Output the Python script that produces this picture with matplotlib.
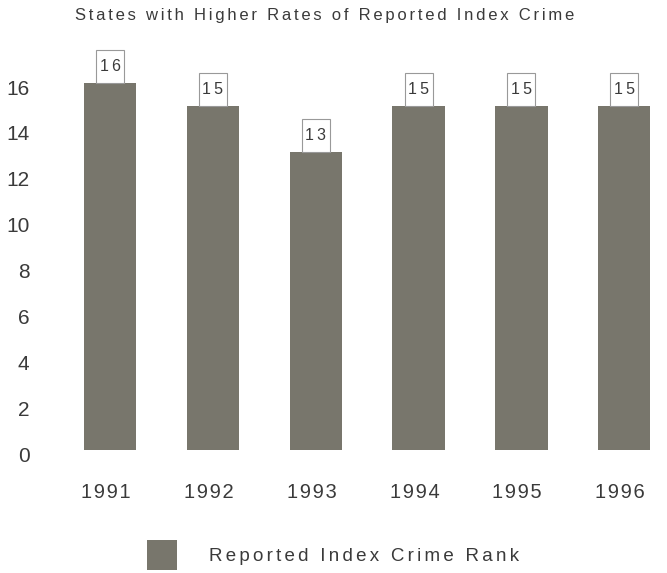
import matplotlib.pyplot as plt
from matplotlib.transforms import ScaledTranslation

# Reported index crime rank by year
years = ["1991", "1992", "1993", "1994", "1995", "1996"]
ranks = [16, 15, 13, 15, 15, 15]
y_ticks = [0, 2, 4, 6, 8, 10, 12, 14, 16]

plt.rcParams['font.family'] = ['Liberation Sans', 'DejaVu Sans']
text_color = "#3a3a3a"
bar_color = "#78766c"

HAIR = "\u200a"
THIN = "\u2009"


def spaced(s, sep=HAIR):
    # loose tracking between every character
    return sep.join(s)


fig = plt.figure(figsize=(6.67, 5.73), dpi=100, facecolor="white")
ax = fig.add_axes([0.0879, 0.2147, 0.902, 0.7208])

x = list(range(len(years)))
bars = ax.bar(x, ranks, width=0.51, color=bar_color,
              label=spaced("Reported Index Crime Rank", HAIR * 2))

# value boxes sitting on top of each bar (taller than wide)
for xi, val in zip(x, ranks):
    ax.annotate(spaced(str(val), THIN), xy=(xi, val), xytext=(0, 6.5), textcoords="offset points",
                ha="center", va="bottom", fontsize=11.5, color=text_color,
                bbox=dict(boxstyle="square,pad=0.22", mutation_aspect=2.6,
                          facecolor="white", edgecolor="#999999", linewidth=0.8))

ax.set_xlim(-0.5, 5.35)
ax.set_ylim(0, 18)
ax.set_xticks(x)
ax.set_xticklabels([spaced(y) for y in years])
ax.set_yticks(y_ticks)
ax.set_yticklabels([str(t) for t in y_ticks])
ax.tick_params(axis="y", length=0, pad=21, labelsize=15, labelcolor=text_color)
ax.tick_params(axis="x", length=0, pad=23.5, labelsize=14.5, labelcolor=text_color)
xshift = ScaledTranslation(-3 / 72, 0, fig.dpi_scale_trans)
for lab in ax.get_xticklabels():
    lab.set_transform(lab.get_transform() + xshift)
yshift = ScaledTranslation(0, -3 / 72, fig.dpi_scale_trans)
for lab in ax.get_yticklabels():
    lab.set_transform(lab.get_transform() + yshift)
for s in ax.spines.values():
    s.set_visible(False)

fig.text(0.487, 0.973, spaced("States with Higher Rates of Reported Index Crime", HAIR * 2),
         ha="center", va="center", fontsize=12, color=text_color)

ax.legend(handles=[bars], loc="center left", bbox_to_anchor=(147 / 667, 1 - 555 / 573),
          bbox_transform=fig.transFigure, frameon=False, fontsize=13.5,
          handlelength=1.6, handleheight=2.1, handletextpad=1.7,
          borderpad=0, borderaxespad=0, labelcolor=text_color)

fig.savefig("out.png", dpi=100, facecolor="white")
